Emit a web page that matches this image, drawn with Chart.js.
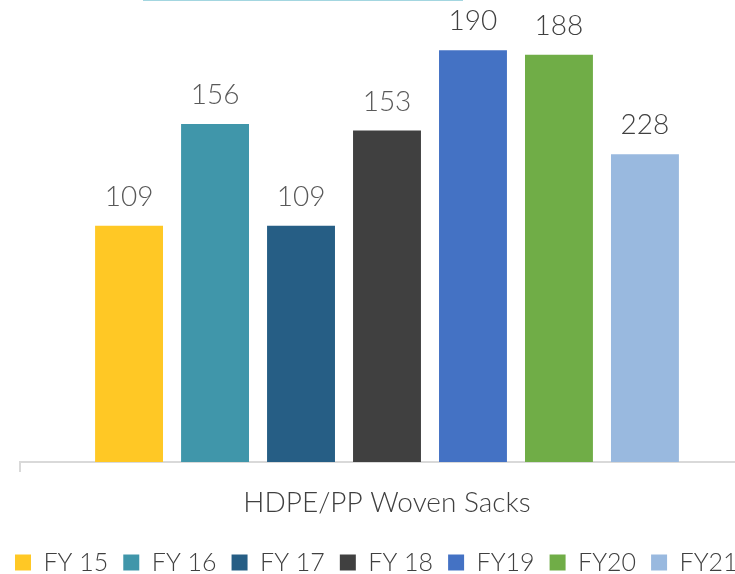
<!DOCTYPE html>
<html>
<head>
<meta charset="utf-8">
<script src="https://cdn.jsdelivr.net/npm/chart.js@4"></script>
<style>
    html, body { margin: 0; padding: 0; background: #fff; }
    #wrap { width: 735px; height: 574px; overflow: hidden; position: relative; }
    #box { position: absolute; left: 0; top: 0; width: 800px; height: 585px; }
</style>
</head>
<body>
<div id="wrap"><div id="box"><canvas id="sacksChart"></canvas></div></div>
<script>
// Data
const categories = ['HDPE/PP Woven Sacks'];
const seriesNames = ['FY 15', 'FY 16', 'FY 17', 'FY 18', 'FY19', 'FY20', 'FY21'];
const barValues = [109, 156, 109, 153, 190, 188, 142];     // bar heights as drawn
const valueLabels = ['109', '156', '109', '153', '190', '188', '228'];  // labels as printed
const seriesColors = ['#ffc825', '#4096aa', '#265e85', '#404040', '#4472c4', '#70ad47', '#99b9df'];
const labelColors = ['#595959', '#595959', '#595959', '#595959', '#404040', '#404040', '#404040'];

// Draw the value above each bar
const valueLabelPlugin = {
    id: 'valueLabels',
    afterDatasetsDraw(chart) {
        const ctx = chart.ctx;
        ctx.save();
        ctx.font = '300 28px Lato';
        ctx.textAlign = 'center';
        ctx.textBaseline = 'bottom';
        chart.data.datasets.forEach((ds, i) => {
            const bar = chart.getDatasetMeta(i).data[0];
            ctx.fillStyle = labelColors[i];
            ctx.fillText(valueLabels[i], bar.x, bar.y - 15);
        });
        ctx.restore();
    }
};

// Thin cyan line left over at the top edge
const topLinePlugin = {
    id: 'topLine',
    afterDraw(chart) {
        const ctx = chart.ctx;
        ctx.save();
        ctx.strokeStyle = '#a3d6e0';
        ctx.lineWidth = 2;
        ctx.beginPath();
        ctx.moveTo(143, 0);
        ctx.lineTo(463, 0);
        ctx.stroke();
        ctx.restore();
    }
};

// empty side axes only used to leave space beside the bars
const spacerAxis = (w, pos) => ({
    position: pos,
    min: 0,
    max: 210,
    grid: { display: false },
    border: { display: false },
    ticks: { display: false },
    afterFit(scale) { scale.width = w; }
});

const ctx = document.getElementById('sacksChart').getContext('2d');
const sacksChart = new Chart(ctx, {
    type: 'bar',
    data: {
        labels: categories,
        datasets: seriesNames.map((name, i) => ({
            label: name,
            data: [barValues[i]],
            backgroundColor: seriesColors[i],
            borderWidth: 0,
            categoryPercentage: 0.82,
            barPercentage: 0.79
        }))
    },
    options: {
        responsive: true,
        maintainAspectRatio: false,
        animation: false,
        layout: {
            padding: { left: 0, right: 0, top: 7, bottom: 0 }
        },
        scales: {
            x: {
                grid: {
                    drawOnChartArea: false,
                    drawTicks: true,
                    tickLength: 10,
                    color: '#d9d9d9',
                    lineWidth: 2
                },
                border: { color: '#d9d9d9', width: 2 },
                ticks: {
                    color: '#404040',
                    font: { family: 'Lato', size: 28, weight: '300' },
                    padding: 14
                },
                afterFit(scale) { scale.height = 73; }
            },
            y: spacerAxis(20, 'left'),
            y2: spacerAxis(46, 'right')
        },
        plugins: {
            legend: {
                position: 'bottom',
                align: 'start',
                labels: {
                    color: '#404040',
                    font: { family: 'Lato', size: 25, weight: '300' },
                    boxWidth: 16,
                    boxHeight: 16,
                    padding: 15
                }
            },
            tooltip: { enabled: false }
        }
    },
    plugins: [valueLabelPlugin, topLinePlugin]
});
</script>
</body>
</html>
